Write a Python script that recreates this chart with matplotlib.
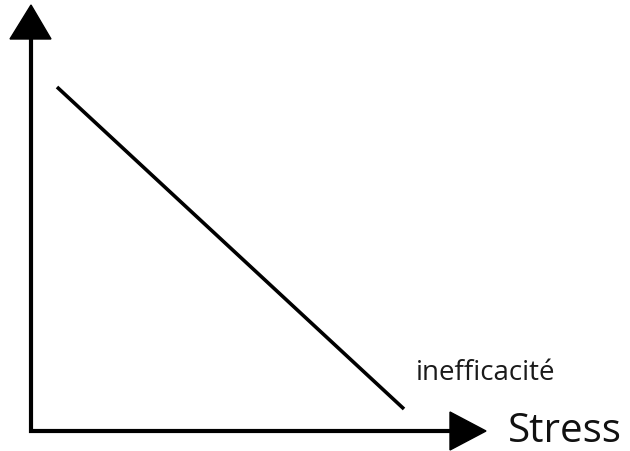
import matplotlib.pyplot as plt
from matplotlib.patches import Polygon

# coordonnées en pixels de l'image (origine en haut à gauche)
origin = (31, 432)
y_axis_top = 40
x_axis_end = 452

# droite stress -> inefficacité
line_x = [57, 404]
line_y = [88, 410]

label_x = "Stress"
label_curve = "inefficacité"

plt.rcParams['font.family'] = ['Open Sans', 'DejaVu Sans']

fig = plt.figure(figsize=(6.3, 4.52), dpi=100)
ax = fig.add_axes([0, 0, 1, 1])
ax.set_xlim(0, 630)
ax.set_ylim(452, 0)
ax.axis('off')

# axes
ax.plot([origin[0], origin[0], x_axis_end], [y_axis_top, origin[1], origin[1]],
        color='black', lw=3.0, solid_joinstyle='miter', solid_capstyle='butt')

# pointes de flèche
ax.add_patch(Polygon([[origin[0], 6], [10, y_axis_top], [51, y_axis_top]],
                     closed=True, color='black'))
ax.add_patch(Polygon([[486, origin[1]], [450, 413], [450, 451]],
                     closed=True, color='black'))

# la droite
ax.plot(line_x, line_y, color='black', lw=2.6, solid_capstyle='butt')

ax.text(416, 380, label_curve, fontsize=20, ha='left', va='baseline', color='#1a1a1a')
ax.text(508, 442, label_x, fontsize=29, ha='left', va='baseline', color='#111111')

plt.savefig("out.png", dpi=100)
